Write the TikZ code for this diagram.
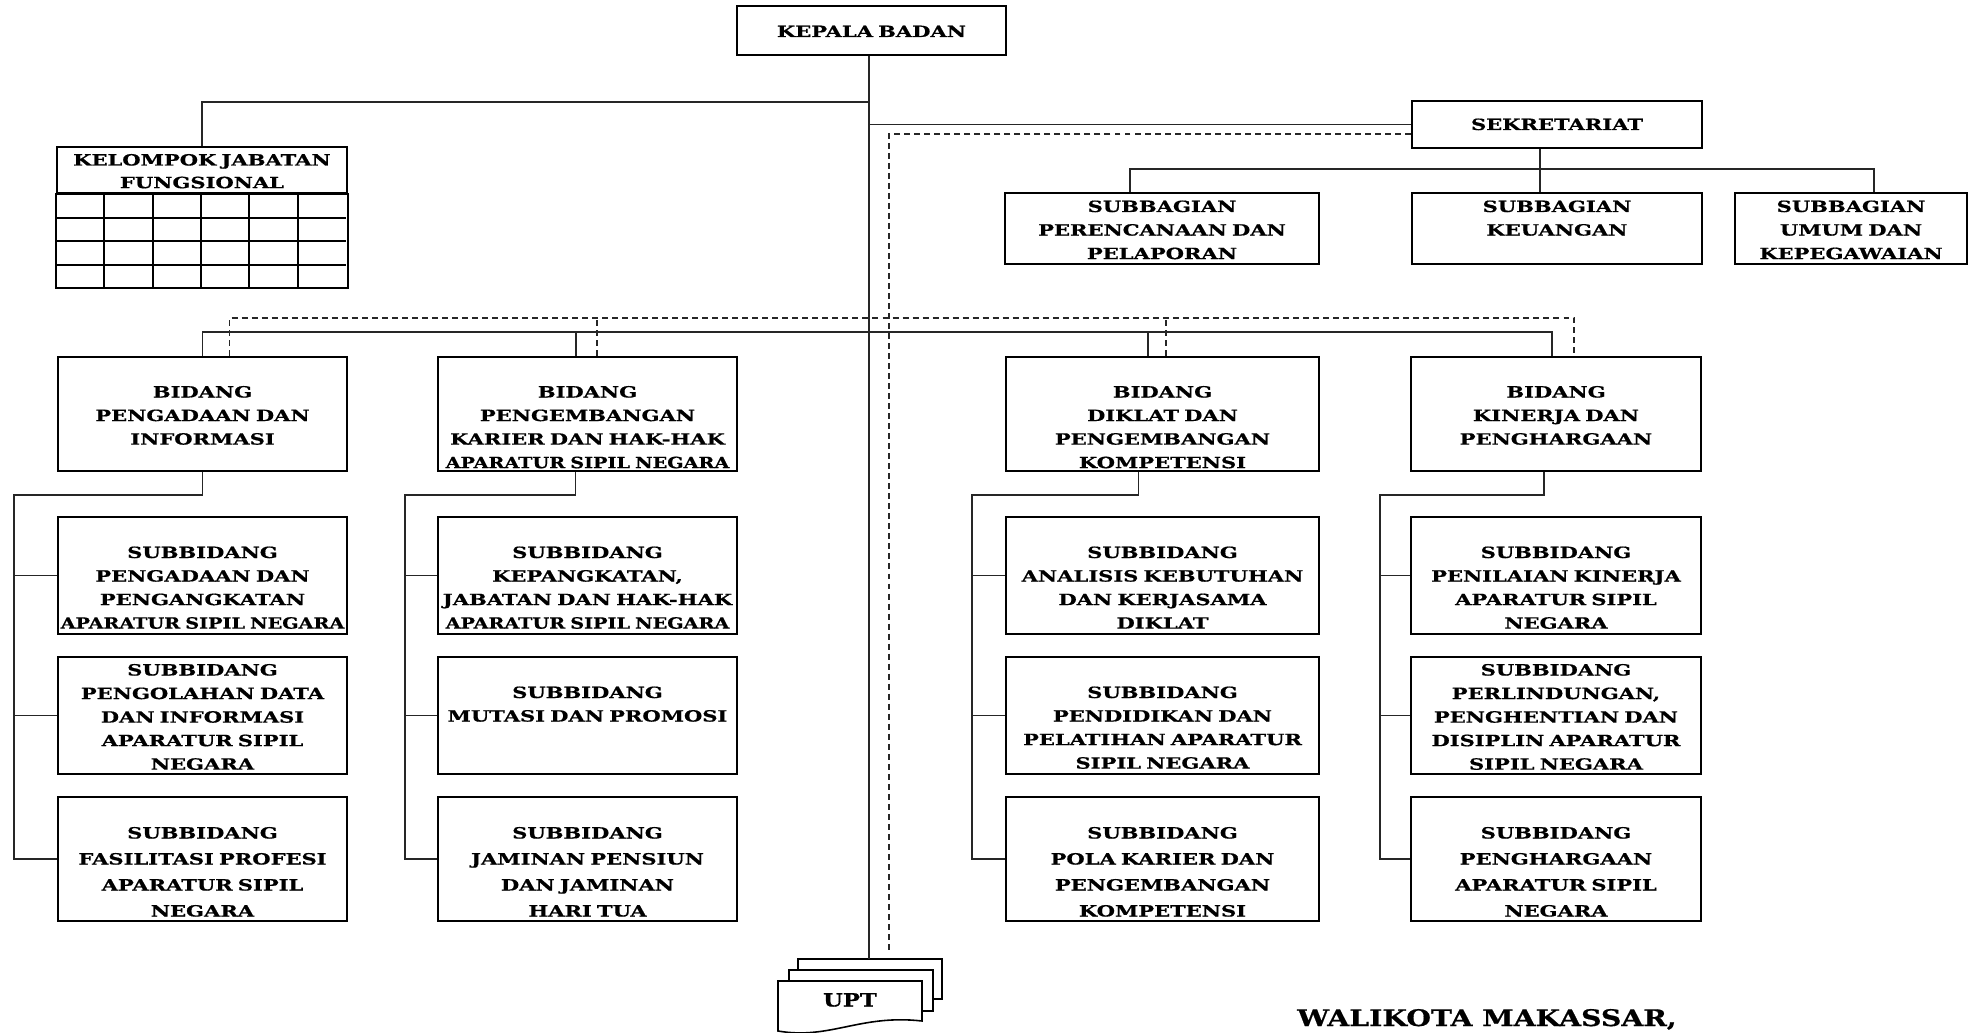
\documentclass[tikz,border=0pt]{standalone}
\usepackage{fontspec}
\newfontfamily\orgfont{DejaVu Serif}[FakeStretch=1.36,FakeBold=0.7]
\newfontfamily\orgtight{DejaVu Serif}[FakeStretch=1.24,FakeBold=0.7]
\usetikzlibrary{calc}

\begin{document}
\begin{tikzpicture}[x=0.02cm,y=-0.02cm,
  box/.style={draw,line width=1.3pt,inner sep=0pt,align=center,font=\orgfont\bfseries\fontsize{8.8}{13.4}\selectfont},
  bid/.style={box,text height=0.81cm,text depth=1.47cm},
  sub/.style={box,text height=0.82cm,text depth=1.52cm},
  subfive/.style={box,text height=0.37cm,text depth=1.97cm},
  sublow/.style={box,text height=0.83cm,text depth=1.65cm,font=\orgfont\bfseries\fontsize{8.8}{14.8}\selectfont},
  bag/.style={box,text height=0.38cm,text depth=1.04cm},
  conn/.style={line width=0.85pt,black!85},
  dline/.style={conn,dash pattern=on 3.4pt off 2.3pt},
  doc/.style={draw,fill=white,line width=0.9pt}
]
\useasboundingbox (0,0) rectangle (1979,1033);

% pimpinan, sekretariat
\node[box,text width=5.38cm,text height=0.62cm,text depth=0.36cm] (kepala) at (871.5,30.5) {KEPALA BADAN};
\node[box,text width=5.8cm,text height=0.58cm,text depth=0.36cm] (sekr) at (1557,124.5) {SEKRETARIAT};
\node[bag,text width=6.28cm] (sb1) at (1162,228.5) {SUBBAGIAN\\PERENCANAAN DAN\\PELAPORAN};
\node[bag,text width=5.8cm] (sb2) at (1557,228.5) {SUBBAGIAN\\KEUANGAN};
\node[bag,text width=4.64cm] (sb3) at (1851,228.5) {SUBBAGIAN\\UMUM DAN\\KEPEGAWAIAN};

% jabatan fungsional
\node[box,text width=5.8cm,text height=0.37cm,text depth=0.55cm,font=\orgfont\bfseries\fontsize{8.8}{12.9}\selectfont] (kjf) at (202,170) {KELOMPOK JABATAN\\FUNGSIONAL};
\draw[line width=1.1pt] (kjf.south west) rectangle ($(kjf.south east)+(0,94)$);
\foreach \i in {1,...,5}
  \draw[line width=1.1pt] ($(kjf.south west)+(48.33*\i,0)$) -- ++(0,94);
\foreach \j in {1,2,3}
  \draw[line width=1.1pt] ($(kjf.south west)+(0,23.5*\j)$) -- ++(290,0);

% bidang
\node[bid,text width=5.78cm] (b1) at (202.5,414) {BIDANG\\PENGADAAN DAN\\INFORMASI};
\node[bid,text width=5.98cm] (b2) at (587.5,414) {BIDANG\\PENGEMBANGAN\\KARIER DAN HAK-HAK\\{\orgtight APARATUR SIPIL NEGARA}};
\node[bid,text width=6.26cm] (b3) at (1162.5,414) {BIDANG\\DIKLAT DAN\\PENGEMBANGAN\\KOMPETENSI};
\node[bid,text width=5.8cm] (b4) at (1556,414) {BIDANG\\KINERJA DAN\\PENGHARGAAN};

% subbidang
\node[sub,text width=5.78cm] (s11) at (202.5,575.5) {SUBBIDANG\\PENGADAAN DAN\\PENGANGKATAN\\{\orgtight APARATUR SIPIL NEGARA}};
\node[subfive,text width=5.78cm] (s12) at (202.5,715.5) {SUBBIDANG\\PENGOLAHAN DATA\\DAN INFORMASI\\APARATUR SIPIL\\NEGARA};
\node[sublow,text width=5.78cm] (s13) at (202.5,859) {SUBBIDANG\\FASILITASI PROFESI\\APARATUR SIPIL\\NEGARA};
\node[sub,text width=5.98cm] (s21) at (587.5,575.5) {SUBBIDANG\\KEPANGKATAN,\\JABATAN DAN HAK-HAK\\{\orgtight APARATUR SIPIL NEGARA}};
\node[sub,text width=5.98cm] (s22) at (587.5,715.5) {SUBBIDANG\\MUTASI DAN PROMOSI};
\node[sublow,text width=5.98cm] (s23) at (587.5,859) {SUBBIDANG\\JAMINAN PENSIUN\\DAN JAMINAN\\HARI TUA};
\node[sub,text width=6.26cm] (s31) at (1162.5,575.5) {SUBBIDANG\\ANALISIS KEBUTUHAN\\DAN KERJASAMA\\DIKLAT};
\node[sub,text width=6.26cm] (s32) at (1162.5,715.5) {SUBBIDANG\\PENDIDIKAN DAN\\PELATIHAN APARATUR\\SIPIL NEGARA};
\node[sublow,text width=6.26cm] (s33) at (1162.5,859) {SUBBIDANG\\POLA KARIER DAN\\PENGEMBANGAN\\KOMPETENSI};
\node[sub,text width=5.8cm] (s41) at (1556,575.5) {SUBBIDANG\\PENILAIAN KINERJA\\APARATUR SIPIL\\NEGARA};
\node[subfive,text width=5.8cm] (s42) at (1556,715.5) {SUBBIDANG\\PERLINDUNGAN,\\PENGHENTIAN DAN\\DISIPLIN APARATUR\\SIPIL NEGARA};
\node[sublow,text width=5.8cm] (s43) at (1556,859) {SUBBIDANG\\PENGHARGAAN\\APARATUR SIPIL\\NEGARA};

% UPT
\draw[doc] (798,959) rectangle (942,999);
\draw[doc] (789,970) rectangle (933,1011);
\draw[doc] (778,981) -- (922,981) -- (922,1021) .. controls (860,1014) and (830,1040) .. (778,1031) -- cycle;
\node[font=\orgtight\bfseries\fontsize{10.4}{12}\selectfont,anchor=base] (upt) at (850,1006.5) {UPT};

\node[font=\orgtight\bfseries\fontsize{13}{15}\selectfont,anchor=base] (walikota) at (1487,1026) {WALIKOTA MAKASSAR,};

% garis komando
\coordinate (upttop) at (869,959);
\coordinate (dashend) at (889,952);
\coordinate (jf) at (869,102);
\coordinate (sbus) at (1540,169);
\draw[conn] (kepala.south -| upttop) -- (upttop);
\draw[conn] (kjf.north) |- (jf);
\draw[conn] (sekr.west) -- (sekr.west -| upttop);
\draw[conn] (sekr.south -| sbus) -- (sb2.north -| sbus);
\draw[conn] ($(sb1.north)+(-32,0)$) |- (sbus) -| ($(sb3.north)+(23,0)$);
\draw[conn] (b1.north) |- ($(b4.north)+(-4,-24)$) -- ($(b4.north)+(-4,0)$);
\draw[conn] ($(b2.north)+(-11.5,0)$) -- ++(0,-24);
\draw[conn] ($(b3.north)+(-14.5,0)$) -- ++(0,-24);

% garis koordinasi
\draw[dline] ($(sekr.west)+(0,9.5)$) -| (dashend);
\draw[dline] ($(b1.north)+(27,0)$) -- ++(0,-38) -| ($(b4.north)+(18,0)$);
\draw[dline] ($(b2.north)+(9.5,0)$) -- ++(0,-38);
\draw[dline] ($(b3.north)+(3.5,0)$) -- ++(0,-38);

\foreach \c/\dx/\dl in {1/0/43,2/-12/32,3/-24/33,4/-12/30}{
  \draw[conn] ($(b\c.south)+(\dx,0)$) -- ++(0,23) -| ($(s\c3.west)+(-\dl,0)$) -- (s\c3.west);
  \draw[conn] (s\c1.west) -- ++(-\dl,0);
  \draw[conn] (s\c2.west) -- ++(-\dl,0);
}
\end{tikzpicture}
\end{document}
